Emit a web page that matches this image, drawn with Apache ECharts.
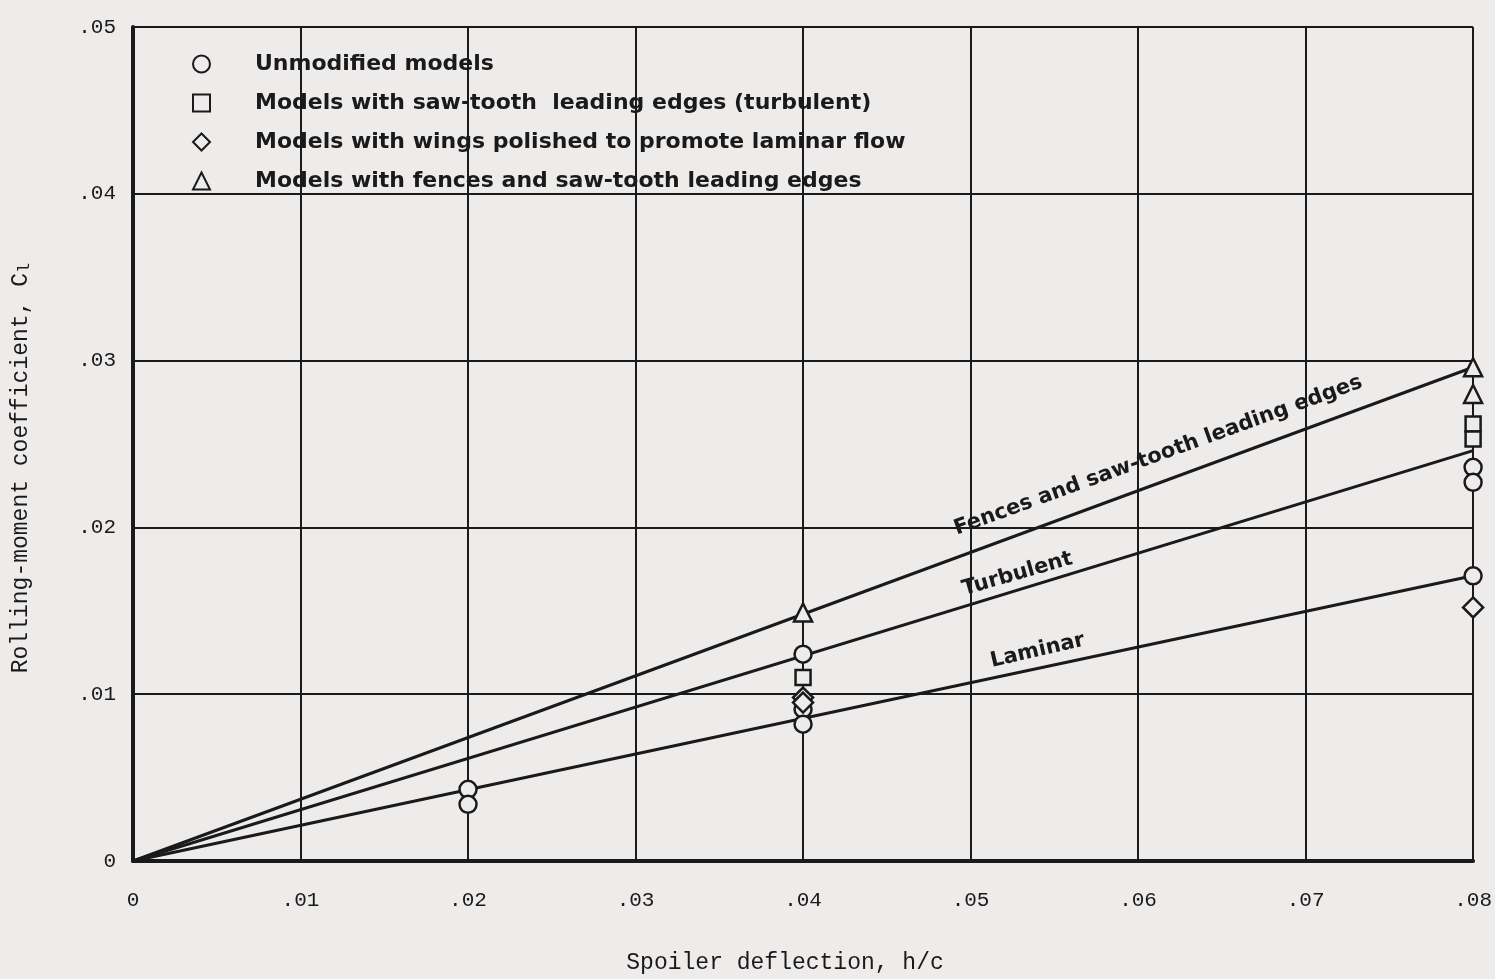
<!DOCTYPE html>
<html>
<head>
<meta charset="utf-8">
<script src="https://cdn.jsdelivr.net/npm/echarts@6/dist/echarts.min.js"></script>
<style>
  html, body { margin: 0; padding: 0; background: #eeebeb; }
  #chart { width: 1495px; height: 979px; }
</style>
</head>
<body>
<div id="chart"></div>
<script>
// Spoiler deflection (h/c) vs rolling-moment coefficient C_l
const xTicks = [0, 0.01, 0.02, 0.03, 0.04, 0.05, 0.06, 0.07, 0.08];
const yTicks = [0, 0.01, 0.02, 0.03, 0.04, 0.05];

// Test points
const unmodifiedX = [0.02, 0.02, 0.04, 0.04, 0.04, 0.08, 0.08, 0.08];
const unmodifiedY = [0.0043, 0.0034, 0.0124, 0.0091, 0.0082, 0.0236, 0.0227, 0.0171];
const sawToothX = [0.04, 0.08, 0.08];
const sawToothY = [0.0110, 0.0262, 0.0253];
const polishedX = [0.04, 0.04, 0.08];
const polishedY = [0.0098, 0.0095, 0.0152];
const fencesX = [0.04, 0.08, 0.08];
const fencesY = [0.0149, 0.0296, 0.0280];

// Faired curves
const curveX = [0, 0.08];
const fencesCurveY = [0, 0.0296];
const turbulentCurveY = [0, 0.0246];
const laminarCurveY = [0, 0.0171];

// Curve annotations
const curveLabels = ['Fences and saw-tooth leading edges', 'Turbulent', 'Laminar'];
const curveLabelX = [0.0612, 0.0528, 0.054];
const curveLabelY = [0.0243, 0.0172, 0.0126];
const curveLabelAngle = [20, 16, 13];

const seriesNames = [
  'Unmodified models',
  'Models with saw-tooth  leading edges (turbulent)',
  'Models with wings polished to promote laminar flow',
  'Models with fences and saw-tooth leading edges'
];

const zip = (xs, ys) => xs.map((x, i) => [x, ys[i]]);
const paper = '#eeebeb';
const ink = '#1a1a1a';
const letterFont = '"DejaVu Sans", sans-serif';
const typeFont = '"Liberation Mono", monospace';

function tickText(v) {
  if (Math.abs(v) < 1e-9) return '0';
  return '.' + v.toFixed(2).split('.')[1];
}

function markerSeries(name, xs, ys, symbol, size) {
  return {
    name: name,
    type: 'scatter',
    symbol: symbol,
    symbolSize: size,
    z: 5,
    itemStyle: { color: paper, borderColor: ink, borderWidth: 2.5, opacity: 1 },
    data: zip(xs, ys)
  };
}

function curveSeries(ys) {
  return {
    type: 'line',
    showSymbol: false,
    silent: true,
    z: 3,
    lineStyle: { color: ink, width: 3 },
    data: zip(curveX, ys)
  };
}

const chart = echarts.init(document.getElementById('chart'), null, { renderer: 'canvas' });

chart.setOption({
  backgroundColor: paper,
  animation: false,
  grid: { left: 133, right: 21, top: 27, bottom: 107 },
  legend: {
    data: seriesNames,
    orient: 'vertical',
    left: 192,
    top: 52,
    padding: 0,
    itemWidth: 17,
    itemHeight: 17,
    itemGap: 15,
    selectedMode: false,
    textStyle: {
      fontFamily: letterFont,
      fontSize: 22,
      fontWeight: 'bold',
      color: ink,
      lineHeight: 24,
      padding: [0, 0, 0, 40]
    }
  },
  xAxis: {
    type: 'value',
    min: 0,
    max: 0.08,
    interval: 0.01,
    name: 'Spoiler deflection, h/c',
    nameLocation: 'middle',
    nameGap: 90,
    nameTextStyle: { fontFamily: typeFont, fontSize: 23, color: ink, padding: [0, 36, 0, 0] },
    axisLine: { show: true, lineStyle: { color: ink, width: 4 } },
    axisTick: { show: false },
    splitLine: { show: true, lineStyle: { color: ink, width: 2 } },
    axisLabel: {
      margin: 29,
      fontFamily: typeFont,
      fontSize: 21,
      color: ink,
      formatter: tickText,
      showMaxLabel: true
    }
  },
  yAxis: {
    type: 'value',
    min: 0,
    max: 0.05,
    interval: 0.01,
    name: 'Rolling-moment coefficient, C{sub|l}',
    nameLocation: 'middle',
    nameGap: 100,
    nameRotate: 90,
    nameTextStyle: {
      fontFamily: typeFont,
      fontSize: 23,
      color: ink,
      padding: [0, 48, 0, 0],
      rich: { sub: { fontFamily: typeFont, fontSize: 17, color: ink, verticalAlign: 'bottom', padding: [8, 0, 0, 0] } }
    },
    axisLine: { show: true, lineStyle: { color: ink, width: 4 } },
    axisTick: { show: false },
    splitLine: { show: true, lineStyle: { color: ink, width: 2 } },
    axisLabel: {
      margin: 17,
      fontFamily: typeFont,
      fontSize: 21,
      color: ink,
      formatter: tickText
    }
  },
  series: [
    curveSeries(fencesCurveY),
    curveSeries(turbulentCurveY),
    curveSeries(laminarCurveY),
    markerSeries(seriesNames[0], unmodifiedX, unmodifiedY, 'circle', 17),
    markerSeries(seriesNames[1], sawToothX, sawToothY, 'rect', 15),
    markerSeries(seriesNames[2], polishedX, polishedY, 'diamond', 20),
    markerSeries(seriesNames[3], fencesX, fencesY, 'triangle', 18),
    {
      type: 'scatter',
      symbolSize: 0,
      silent: true,
      z: 6,
      data: curveLabels.map((t, i) => ({
        value: [curveLabelX[i], curveLabelY[i]],
        label: {
          show: true,
          position: 'inside',
          rotate: curveLabelAngle[i],
          formatter: t,
          fontFamily: letterFont,
          fontSize: 21,
          fontWeight: 'bold',
          color: ink,
          textBorderWidth: 0,
          opacity: 1
        }
      }))
    }
  ]
});
</script>
</body>
</html>
